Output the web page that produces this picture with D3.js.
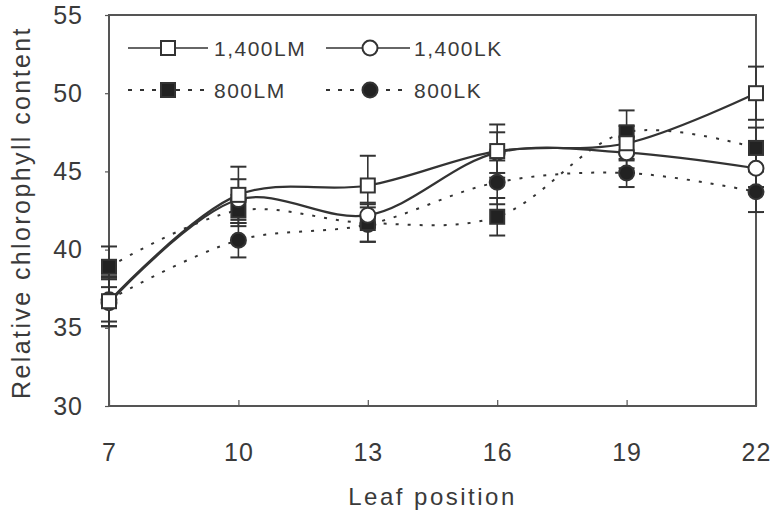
<!DOCTYPE html>
<html>
<head>
<meta charset="utf-8">
<script src="https://cdn.jsdelivr.net/npm/d3@7/dist/d3.min.js"></script>
<style>
  html, body { margin: 0; padding: 0; background: #fff; }
  svg { display: block; }
  text { font-family: "Liberation Sans", Arial, sans-serif; fill: #3a3a3a; }
</style>
</head>
<body>
<svg id="chart" width="779" height="514"></svg>
<script>
// Leaf positions on the x axis
const leafPositions = [7, 10, 13, 16, 19, 22];
const xTicks = [7, 10, 13, 16, 19, 22];
const yTicks = [30, 35, 40, 45, 50, 55];

// Mean relative chlorophyll content per treatment
const lm1400 = [36.7, 43.5, 44.1, 46.3, 46.8, 50.0];
const lk1400 = [36.6, 43.2, 42.2, 46.2, 46.2, 45.2];
const lm800  = [38.9, 42.5, 41.7, 42.1, 47.5, 46.5];
const lk800  = [36.8, 40.6, 41.6, 44.3, 44.9, 43.7];

// Error half-widths
const lm1400Err = [1.6, 1.8, 1.9, 1.7, 1.1, 1.7];
const lk1400Err = [1.5, 1.3, 0.8, 1.3, 1.0, 1.2];
const lm800Err  = [1.3, 1.0, 1.2, 1.2, 1.4, 1.3];
const lk800Err  = [1.4, 1.1, 1.1, 1.4, 0.9, 1.3];

const seriesNames = ["1,400LM", "1,400LK", "800LM", "800LK"];

const series = [
  { name: seriesNames[0], values: lm1400, err: lm1400Err, dashed: false, shape: "square", filled: false },
  { name: seriesNames[1], values: lk1400, err: lk1400Err, dashed: false, shape: "circle", filled: false },
  { name: seriesNames[2], values: lm800,  err: lm800Err,  dashed: true,  shape: "square", filled: true },
  { name: seriesNames[3], values: lk800,  err: lk800Err,  dashed: true,  shape: "circle", filled: true }
];

const ink = "#333";
const svg = d3.select("#chart");
const plot = { left: 109, right: 756, top: 15, bottom: 406 };

const x = d3.scaleLinear().domain([7, 22]).range([plot.left, plot.right]);
const y = d3.scaleLinear().domain([30, 55]).range([plot.bottom, plot.top]);

// Frame
svg.append("rect")
  .attr("x", plot.left).attr("y", plot.top)
  .attr("width", plot.right - plot.left).attr("height", plot.bottom - plot.top)
  .attr("fill", "none").attr("stroke", "#555").attr("stroke-width", 2);

// Bottom axis: short inward ticks, labels below
const xAxis = d3.axisBottom(x).tickValues(xTicks).tickSize(-6).tickPadding(55).tickFormat(d3.format("d"));
const gx = svg.append("g").attr("transform", `translate(0,${plot.bottom})`).call(xAxis);
gx.select(".domain").remove();
gx.selectAll(".tick line").attr("stroke", "#555").attr("stroke-width", 1.2);
gx.selectAll(".tick text").attr("font-size", 25).attr("fill", "#3a3a3a").attr("dy", "0")
  .attr("letter-spacing", 1);

// Left axis
const yAxis = d3.axisLeft(y).tickValues(yTicks).tickSize(4).tickPadding(22).tickFormat(d3.format("d"));
const gy = svg.append("g").attr("transform", `translate(${plot.left},0)`).call(yAxis);
gy.select(".domain").remove();
gy.selectAll(".tick line").attr("stroke", "#555").attr("stroke-width", 1.2);
gy.selectAll(".tick text").attr("font-size", 25).attr("fill", "#3a3a3a").attr("letter-spacing", 1);

// Axis titles
svg.append("text")
  .attr("x", (plot.left + plot.right) / 2).attr("y", 505)
  .attr("text-anchor", "middle").attr("font-size", 24).attr("letter-spacing", 2.5)
  .text("Leaf position");
svg.append("text")
  .attr("transform", `translate(30,${(plot.top + plot.bottom) / 2 + 2}) rotate(-90)`)
  .attr("text-anchor", "middle").attr("font-size", 25).attr("letter-spacing", 2.4)
  .text("Relative chlorophyll content");

// Error bars
const capW = 8;
series.forEach(s => {
  const g = svg.append("g");
  s.values.forEach((v, i) => {
    const cx = x(leafPositions[i]);
    const lo = y(v - s.err[i]), hi = y(v + s.err[i]);
    g.append("line").attr("x1", cx).attr("x2", cx).attr("y1", lo).attr("y2", hi)
      .attr("stroke", ink).attr("stroke-width", 1.6);
    [lo, hi].forEach(yy => g.append("line")
      .attr("x1", cx - capW).attr("x2", cx + capW).attr("y1", yy).attr("y2", yy)
      .attr("stroke", ink).attr("stroke-width", 2));
  });
});

// Series lines
const line = d3.line()
  .x((d, i) => x(leafPositions[i]))
  .y(d => y(d))
  .curve(d3.curveCatmullRom.alpha(0.5));

series.forEach(s => {
  svg.append("path")
    .attr("d", line(s.values))
    .attr("fill", "none")
    .attr("stroke", ink)
    .attr("stroke-width", s.dashed ? 2 : 2.2)
    .attr("stroke-dasharray", s.dashed ? "3,9" : null);
});

// Markers
function marker(g, shape, filled, cx, cy) {
  if (shape === "square") {
    g.append("rect").attr("x", cx - 7).attr("y", cy - 7).attr("width", 14).attr("height", 14)
      .attr("fill", filled ? "#222" : "#fff").attr("stroke", ink).attr("stroke-width", 2);
  } else {
    g.append("circle").attr("cx", cx).attr("cy", cy).attr("r", 7.5)
      .attr("fill", filled ? "#222" : "#fff").attr("stroke", ink).attr("stroke-width", 2);
  }
}

// draw filled series first so the open ones sit on top where they overlap
[series[3], series[2], series[1], series[0]].forEach(s => {
  const g = svg.append("g");
  s.values.forEach((v, i) => marker(g, s.shape, s.filled, x(leafPositions[i]), y(v)));
});

// Legend
const legendItems = [
  { s: series[0], x0: 128, x1: 208, mx: 168, ty: 48, tx: 214 },
  { s: series[1], x0: 326, x1: 410, mx: 370, ty: 48, tx: 414 },
  { s: series[2], x0: 128, x1: 208, mx: 168, ty: 90, tx: 214 },
  { s: series[3], x0: 326, x1: 410, mx: 370, ty: 90, tx: 414 }
];
legendItems.forEach(it => {
  const g = svg.append("g");
  g.append("line").attr("x1", it.x0).attr("x2", it.x1).attr("y1", it.ty).attr("y2", it.ty)
    .attr("stroke", ink).attr("stroke-width", it.s.dashed ? 2 : 1.6)
    .attr("stroke-dasharray", it.s.dashed ? "4,8" : null);
  marker(g, it.s.shape, it.s.filled, it.mx, it.ty);
  g.append("text").attr("x", it.tx).attr("y", it.ty).attr("dy", "0.36em")
    .attr("font-size", 21).attr("letter-spacing", 1.5).text(it.s.name);
});
</script>
</body>
</html>
